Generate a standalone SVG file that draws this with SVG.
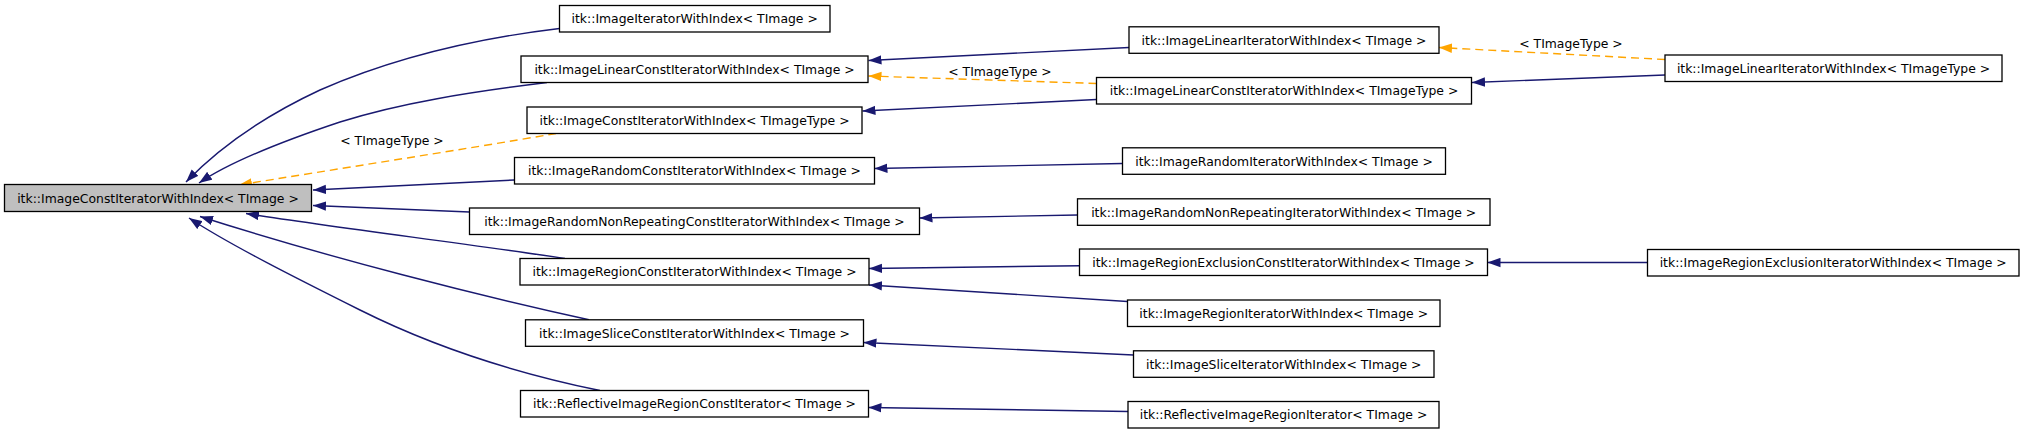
<svg xmlns="http://www.w3.org/2000/svg" width="2024" height="433" viewBox="0 0 2024 433">
<style>
.n rect{fill:#fff;stroke:#000;stroke-width:1.3}
.n.root rect{fill:#bfbfbf}
.n text,.lbl{font-family:"DejaVu Sans",sans-serif;font-size:12.4px;fill:#000;text-anchor:middle}
.e{fill:none;stroke:#191970;stroke-width:1.4;marker-end:url(#an)}
.d{fill:none;stroke:#ffa500;stroke-width:1.4;stroke-dasharray:8,5;marker-end:url(#ao)}
</style>
<defs>
<marker id="an" viewBox="0 0 13 10" refX="13" refY="5" markerWidth="13" markerHeight="10" orient="auto" markerUnits="userSpaceOnUse"><path d="M0,0.3 L13,5 L0,9.7 Z" fill="#191970"/></marker>
<marker id="ao" viewBox="0 0 13 10" refX="13" refY="5" markerWidth="13" markerHeight="10" orient="auto" markerUnits="userSpaceOnUse"><path d="M0,0.3 L13,5 L0,9.7 Z" fill="#ffa500"/></marker>
</defs>
<rect width="2024" height="433" fill="#fff"/>
<g id="connectors">
<path class="e" d="M559.5,28.5 C480,38 400,55 320,90 C260,118 215,152 186,182"/>
<path class="e" d="M547,82.5 C470,92 400,103 340,122 C280,142 230,162 199,183"/>
<path class="d" d="M556,133.5 C460,150 330,170 239,185"/>
<path class="e" d="M514.5,180 L313,190"/>
<path class="e" d="M469.5,212 L313,205.5"/>
<path class="e" d="M565,258.5 C470,244 330,227 246,213.5"/>
<path class="e" d="M589,319.8 C480,296 330,258 200,216.5"/>
<path class="e" d="M600,390.5 C500,370 420,340 360,310 C300,280 230,245 189,218"/>
<path class="e" d="M1129,47.5 L868.5,60.5"/>
<path class="d" d="M1096.5,83.5 L868.5,76"/>
<path class="e" d="M1096.5,99.5 L862.5,111"/>
<path class="e" d="M1122.5,163.5 L874.5,168.5"/>
<path class="e" d="M1077.5,215 L919.5,218"/>
<path class="e" d="M1079.5,265.7 L869,268.5"/>
<path class="e" d="M1127.5,301.5 L869,285"/>
<path class="e" d="M1133.5,355 L863.5,342.5"/>
<path class="e" d="M1128,411.5 L868.5,407.5"/>
<path class="d" d="M1665,59.5 L1439,47.5"/>
<path class="e" d="M1665,75 L1472,82.5"/>
<path class="e" d="M1647.5,262.5 L1487.5,262.5"/>
<text class="lbl" x="392" y="144.5">&lt; TImageType &gt;</text>
<text class="lbl" x="1000" y="75.5">&lt; TImageType &gt;</text>
<text class="lbl" x="1571" y="48">&lt; TImageType &gt;</text>
</g>
<g id="n1" class="n root"><rect x="4.5" y="184.5" width="307" height="27"/><text x="158" y="202.5">itk::ImageConstIteratorWithIndex&lt; TImage &gt;</text></g>
<g id="n2" class="n"><rect x="559.5" y="5.5" width="270.5" height="26.5"/><text x="694.7" y="23.2">itk::ImageIteratorWithIndex&lt; TImage &gt;</text></g>
<g id="n3" class="n"><rect x="521" y="56" width="347" height="26.5"/><text x="694.5" y="73.8">itk::ImageLinearConstIteratorWithIndex&lt; TImage &gt;</text></g>
<g id="n4" class="n"><rect x="527" y="107" width="335" height="26.5"/><text x="694.5" y="124.7">itk::ImageConstIteratorWithIndex&lt; TImageType &gt;</text></g>
<g id="n5" class="n"><rect x="514.5" y="157.5" width="360" height="26.5"/><text x="694.5" y="175.2">itk::ImageRandomConstIteratorWithIndex&lt; TImage &gt;</text></g>
<g id="n6" class="n"><rect x="469.5" y="208" width="450" height="26.5"/><text x="694.5" y="225.7">itk::ImageRandomNonRepeatingConstIteratorWithIndex&lt; TImage &gt;</text></g>
<g id="n7" class="n"><rect x="520" y="258.5" width="349" height="26.5"/><text x="694.5" y="276.2">itk::ImageRegionConstIteratorWithIndex&lt; TImage &gt;</text></g>
<g id="n8" class="n"><rect x="525.5" y="319.8" width="338" height="26.5"/><text x="694.5" y="337.5">itk::ImageSliceConstIteratorWithIndex&lt; TImage &gt;</text></g>
<g id="n9" class="n"><rect x="520.5" y="390.5" width="348" height="26.5"/><text x="694.5" y="408.2">itk::ReflectiveImageRegionConstIterator&lt; TImage &gt;</text></g>
<g id="n10" class="n"><rect x="1129" y="26.8" width="310" height="26.5"/><text x="1284" y="44.5">itk::ImageLinearIteratorWithIndex&lt; TImage &gt;</text></g>
<g id="n11" class="n"><rect x="1096.5" y="77.5" width="375" height="26.5"/><text x="1284" y="95.2">itk::ImageLinearConstIteratorWithIndex&lt; TImageType &gt;</text></g>
<g id="n12" class="n"><rect x="1122.5" y="147.8" width="323" height="26.5"/><text x="1284" y="165.5">itk::ImageRandomIteratorWithIndex&lt; TImage &gt;</text></g>
<g id="n13" class="n"><rect x="1077.5" y="198.8" width="412.5" height="26.5"/><text x="1283.7" y="216.5">itk::ImageRandomNonRepeatingIteratorWithIndex&lt; TImage &gt;</text></g>
<g id="n14" class="n"><rect x="1079.5" y="249" width="408" height="26.5"/><text x="1283.5" y="266.8">itk::ImageRegionExclusionConstIteratorWithIndex&lt; TImage &gt;</text></g>
<g id="n15" class="n"><rect x="1127.5" y="300" width="312.5" height="26.5"/><text x="1283.7" y="317.8">itk::ImageRegionIteratorWithIndex&lt; TImage &gt;</text></g>
<g id="n16" class="n"><rect x="1133.5" y="350.8" width="300.5" height="26.5"/><text x="1283.7" y="368.5">itk::ImageSliceIteratorWithIndex&lt; TImage &gt;</text></g>
<g id="n17" class="n"><rect x="1128" y="401.5" width="311" height="26.5"/><text x="1283.5" y="419.2">itk::ReflectiveImageRegionIterator&lt; TImage &gt;</text></g>
<g id="n18" class="n"><rect x="1665" y="55" width="337" height="26.5"/><text x="1833.5" y="72.7">itk::ImageLinearIteratorWithIndex&lt; TImageType &gt;</text></g>
<g id="n19" class="n"><rect x="1647.5" y="249.5" width="371.5" height="26.5"/><text x="1833.2" y="267.2">itk::ImageRegionExclusionIteratorWithIndex&lt; TImage &gt;</text></g>
</svg>
